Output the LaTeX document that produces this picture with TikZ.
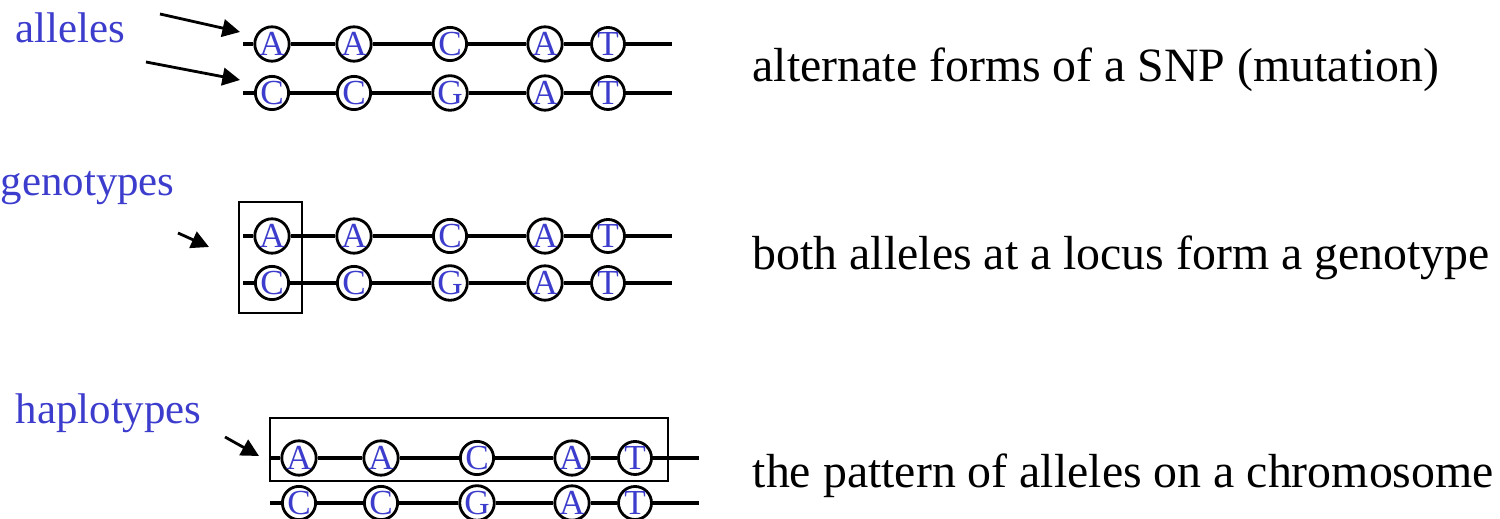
\documentclass[tikz,border=0pt]{standalone}
\usepackage{fontspec}
\setmainfont{Liberation Serif}
\usetikzlibrary{arrows.meta}
\definecolor{snpblue}{RGB}{60,60,205}
\tikzset{
  base/.style={circle, draw, line width=0.8pt, fill=white, inner sep=0pt,
    minimum size=0.33cm, text=snpblue, font=\fontsize{10}{10}\selectfont},
  strand/.style={line width=1.1pt},
  tag/.style={text=snpblue, font=\fontsize{12.2}{14}\selectfont, anchor=base west, inner sep=0pt},
  note/.style={font=\fontsize{13.6}{16}\selectfont, anchor=base west, inner sep=0pt},
  pointer/.style={line width=0.8pt, -{Triangle[length=5pt,width=5pt]}},
  frame/.style={draw, line width=0.8pt}
}

\begin{document}
\begin{tikzpicture}[x=0.01cm, y=-0.01cm]
  \useasboundingbox (0,0) rectangle (1500,519);
  % two strands per panel
  \foreach \r/\x/\y/\la/\lb/\lc/\ld/\le in {
      r1/243/44/A/A/C/A/T, r2/243/93/C/C/G/A/T,
      r3/243/236/A/A/C/A/T, r4/243/283/C/C/G/A/T,
      r5/270/458/A/A/C/A/T, r6/270/503/C/C/G/A/T} {
    \coordinate (\r-s) at (\x,\y);
    \coordinate (\r-e) at (\x+429,\y);
    \node[base] (\r-1) at (\x+29,\y) {\la};
    \node[base] (\r-2) at (\x+111,\y) {\lb};
    \node[base] (\r-3) at (\x+207,\y) {\lc};
    \node[base] (\r-4) at (\x+302,\y) {\ld};
    \node[base] (\r-5) at (\x+365,\y) {\le};
    \draw[strand] (\r-s) -- (\r-1) -- (\r-2) -- (\r-3) -- (\r-4) -- (\r-5) -- (\r-e);
  }
  % boxes
  \draw[frame] (239,202) rectangle (302,313);
  \draw[frame] (270,418) rectangle (668,481);
  % labels
  \node[tag] (alleles) at (15,43) {alleles};
  \node[tag] (geno) at (0,196) {genotypes};
  \node[tag] (haplo) at (15,424) {haplotypes};
  \coordinate (p1) at (160,14);
  \coordinate (q1) at (240,32);
  \coordinate (p2) at (146,62);
  \coordinate (q2) at (240,80);
  \coordinate (p3) at (178,233);
  \coordinate (q3) at (209,247);
  \coordinate (p4) at (225,437);
  \coordinate (q4) at (259,456);
  \draw[pointer] (p1) -- (q1);
  \draw[pointer] (p2) -- (q2);
  \draw[pointer] (p3) -- (q3);
  \draw[pointer] (p4) -- (q4);
  % notes
  \node[note] (n1) at (752,82) {alternate forms of a SNP (mutation)};
  \node[note] (n2) at (752,270) {both alleles at a locus form a genotype};
  \node[note] (n3) at (752,488) {the pattern of alleles on a chromosome};
\end{tikzpicture}
\end{document}
